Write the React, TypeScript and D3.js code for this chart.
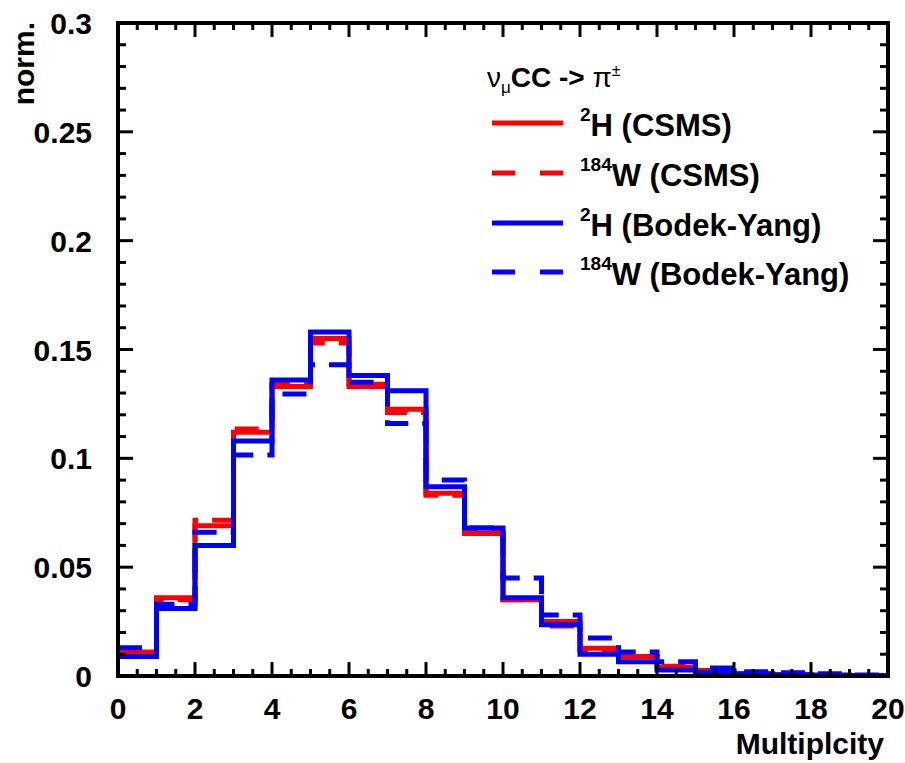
import React from 'react';
import * as d3 from 'd3';

// bin contents for multiplicity 0..19 (normalised)
const bins = d3.range(0, 20);
const h2Csms = [0.011, 0.036, 0.069, 0.112, 0.133, 0.155, 0.133, 0.1225, 0.084, 0.0655, 0.035, 0.025, 0.0128, 0.009, 0.004, 0.002, 0.001, 0.0006, 0.0003, 0.0001];
const w184Csms = [0.010, 0.035, 0.0715, 0.1135, 0.134, 0.153, 0.134, 0.121, 0.083, 0.066, 0.035, 0.023, 0.012, 0.009, 0.0045, 0.0025, 0.0012, 0.0007, 0.0004, 0.0002];
const h2By = [0.009, 0.031, 0.060, 0.108, 0.136, 0.158, 0.138, 0.131, 0.087, 0.068, 0.036, 0.0235, 0.010, 0.0066, 0.0028, 0.0015, 0.0008, 0.0005, 0.0003, 0.0002];
const w184By = [0.013, 0.033, 0.066, 0.1015, 0.1295, 0.143, 0.135, 0.116, 0.090, 0.068, 0.045, 0.028, 0.0175, 0.011, 0.0066, 0.0037, 0.002, 0.0015, 0.001, 0.0005];

const yTickLabels = ['0', '0.05', '0.1', '0.15', '0.2', '0.25', '0.3'];
const xTickLabels = ['0', '2', '4', '6', '8', '10', '12', '14', '16', '18', '20'];

const series = [
  { sup: '2', name: 'H (CSMS)', values: h2Csms, color: '#ff0000', dashed: false },
  { sup: '184', name: 'W (CSMS)', values: w184Csms, color: '#ff0000', dashed: true },
  { sup: '2', name: 'H (Bodek-Yang)', values: h2By, color: '#0000ff', dashed: false },
  { sup: '184', name: 'W (Bodek-Yang)', values: w184By, color: '#0000ff', dashed: true },
];

const W = 905;
const H = 763;
const frame = { left: 118, right: 888, top: 23, bottom: 676 };
const font = '"Liberation Sans", Arial, Helvetica, sans-serif';

export default function App() {
  const x = d3.scaleLinear().domain([0, 20]).range([frame.left, frame.right]);
  const y = d3.scaleLinear().domain([0, 0.3]).range([frame.bottom, frame.top]);

  const step = d3.line<[number, number]>()
    .x(d => x(d[0]))
    .y(d => y(d[1]))
    .curve(d3.curveStepAfter);

  const histPath = (vals: number[]) => {
    const pts: [number, number][] = bins.map(i => [i, vals[i]]);
    pts.push([20, vals[vals.length - 1]]);
    return step(pts) || '';
  };

  const yMajor = d3.range(0, 7).map(i => i * 0.05);
  const yMinor = d3.range(0, 31).map(i => i * 0.01);
  const xMajor = d3.range(0, 11).map(i => i * 2);
  const xMinor = d3.range(0, 41).map(i => i * 0.5);

  const legendX0 = 492;
  const legendX1 = 563;
  const legendRows = [123, 173, 223, 272];

  return (
    <svg width={W} height={H} style={{ position: 'absolute', left: 0, top: 0, background: '#fff' }}
      fontFamily={font}>
      <defs>
        <clipPath id="plotClip">
          <rect x={frame.left} y={frame.top} width={frame.right - frame.left} height={frame.bottom - frame.top} />
        </clipPath>
      </defs>

      {/* histograms */}
      <g clipPath="url(#plotClip)">
        {series.map((s, i) => (
          <path key={i} d={histPath(s.values)} fill="none" stroke={s.color} strokeWidth={5}
            strokeDasharray={s.dashed ? '24 14' : undefined} />
        ))}
      </g>

      {/* ticks */}
      <g stroke="#000" strokeWidth={3}>
        {yMinor.map((v, i) => {
          const major = i % 5 === 0;
          const len = major ? 15 : 8;
          return (
            <g key={'y' + i}>
              <line x1={frame.left} x2={frame.left + len} y1={y(v)} y2={y(v)} />
              <line x1={frame.right} x2={frame.right - len} y1={y(v)} y2={y(v)} />
            </g>
          );
        })}
        {xMinor.map((v, i) => {
          const major = i % 4 === 0;
          const len = major ? 14 : 7;
          return (
            <g key={'x' + i}>
              <line x1={x(v)} x2={x(v)} y1={frame.bottom} y2={frame.bottom - len} />
              <line x1={x(v)} x2={x(v)} y1={frame.top} y2={frame.top + len} />
            </g>
          );
        })}
      </g>

      {/* frame */}
      <rect x={frame.left} y={frame.top} width={frame.right - frame.left} height={frame.bottom - frame.top}
        fill="none" stroke="#000" strokeWidth={4} />

      {/* y labels */}
      {yMajor.map((v, i) => (
        <text key={'yl' + i} x={92} y={y(v) + 11} textAnchor="end" fontSize={30} fontWeight="bold">
          {yTickLabels[i]}
        </text>
      ))}
      {/* x labels */}
      {xMajor.map((v, i) => (
        <text key={'xl' + i} x={x(v)} y={719} textAnchor="middle" fontSize={30} fontWeight="bold">
          {xTickLabels[i]}
        </text>
      ))}

      <text x={884} y={754} textAnchor="end" fontSize={30} fontWeight="bold">Multiplcity</text>
      <text transform="translate(34,22) rotate(-90)" textAnchor="end" fontSize={30} fontWeight="bold">norm.</text>

      {/* legend */}
      <text x={487} y={87} fontSize={28}>
        <tspan>ν</tspan>
        <tspan fontSize={17} dy={6}>μ</tspan>
        <tspan fontWeight="bold" dy={-6}>CC -&gt; </tspan>
        <tspan>π</tspan>
        <tspan fontSize={16} dy={-11}>±</tspan>
      </text>
      {series.map((s, i) => (
        <g key={'lg' + i}>
          <line x1={legendX0} x2={legendX1} y1={legendRows[i]} y2={legendRows[i]} stroke={s.color}
            strokeWidth={5} strokeDasharray={s.dashed ? '23 25' : undefined} />
          <text x={580} y={legendRows[i] + 13} fontSize={31} fontWeight="bold">
            <tspan fontSize={19} dy={-15}>{s.sup}</tspan>
            <tspan dy={15}>{s.name}</tspan>
          </text>
        </g>
      ))}
    </svg>
  );
}
